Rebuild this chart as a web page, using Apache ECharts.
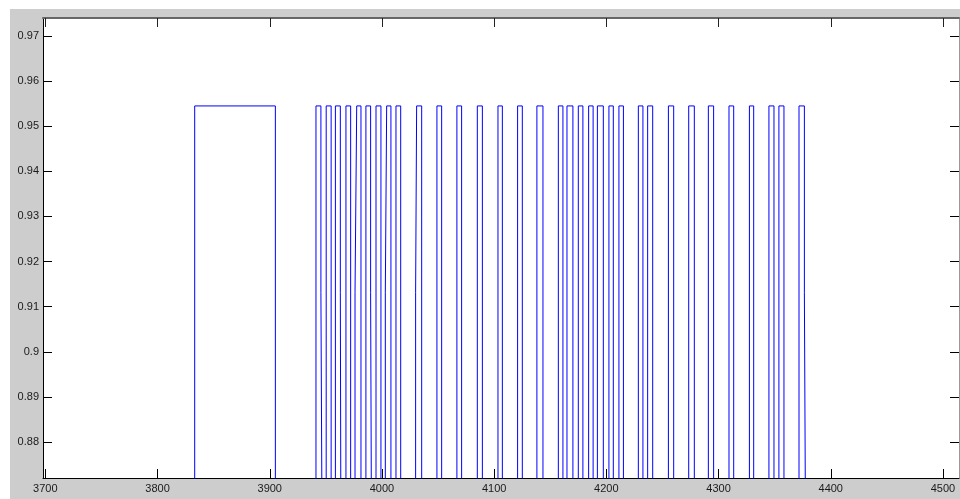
<!DOCTYPE html>
<html>
<head>
<meta charset="utf-8">
<script src="https://cdn.jsdelivr.net/npm/echarts@6/dist/echarts.min.js"></script>
<style>
html,body{margin:0;padding:0;background:#fff;}
#chart{width:960px;height:499px;}
</style>
</head>
<body>
<div id="chart"></div>
<script>
// Pulse rising / falling edges (x values)
const pulseStart = [3833.1, 3941.2, 3950.3, 3958.5, 3967.9, 3977.5, 3985.7, 3994.7, 4004.2, 4012.5,
  4030.9, 4049.0, 4066.8, 4085.0, 4103.4, 4120.9, 4138.1, 4157.2, 4164.9, 4175.0,
  4184.2, 4192.0, 4202.3, 4211.2, 4228.5, 4236.8, 4255.3, 4273.4, 4290.9, 4309.3,
  4327.5, 4344.9, 4353.8, 4371.7];
const pulseEnd = [3905.0, 3945.6, 3954.7, 3962.9, 3972.1, 3981.3, 3989.9, 3999.1, 4008.0, 4016.7,
  4035.4, 4053.2, 4071.0, 4089.5, 4107.3, 4125.1, 4143.5, 4161.3, 4170.2, 4179.1,
  4188.2, 4197.3, 4206.2, 4215.2, 4232.6, 4241.3, 4260.0, 4278.4, 4295.6, 4313.5,
  4331.3, 4349.4, 4358.3, 4376.5];
const highLevel = 0.9545;
const midLevel = 0.9132;
const lowLevel = 0.85;
// small jogs on some edges at the mid level
const riseKinkPulse = [5, 8, 10];
const riseKinkShift = [-1.5, -1.2, -0.9];
const fallKinkPulse = [1, 3, 6, 33];
const fallKinkShift = [1.2, 0.6, 0.9, 1.2];
const xStart = 3697.9, xEnd = 4514.3;
const yMin = 0.87202, yMax = 0.97399;
const xTicks = [3700, 3800, 3900, 4000, 4100, 4200, 4300, 4400, 4500];
const yTicks = [0.88, 0.89, 0.9, 0.91, 0.92, 0.93, 0.94, 0.95, 0.96, 0.97];

const data = [[xStart - 5, lowLevel]];
pulseStart.forEach((a, i) => {
  const b = pulseEnd[i];
  const ri = riseKinkPulse.indexOf(i);
  if (ri >= 0) {
    const s = riseKinkShift[ri];
    data.push([a + s, lowLevel], [a + s, midLevel], [a, midLevel], [a, highLevel]);
  } else {
    data.push([a, lowLevel], [a, highLevel]);
  }
  const fi = fallKinkPulse.indexOf(i);
  if (fi >= 0) {
    const s = fallKinkShift[fi];
    data.push([b, highLevel], [b, midLevel], [b + s, midLevel], [b + s, lowLevel]);
  } else {
    data.push([b, highLevel], [b, lowLevel]);
  }
});
data.push([xEnd + 5, lowLevel]);

const labelStyle = {fontFamily: 'Liberation Sans, Arial, sans-serif', fontSize: 11, color: '#1a1a1a'};

const chart = echarts.init(document.getElementById('chart'), null, {renderer: 'canvas'});
chart.setOption({
  animation: false,
  backgroundColor: '#fff',
  graphic: [{
    type: 'rect', z: -10, silent: true,
    shape: {x: 10, y: 9, width: 950, height: 490},
    style: {fill: '#cdcdcd'}
  }],
  grid: {left: 43, top: 18, right: 1, bottom: 21, show: true, backgroundColor: '#fff', borderWidth: 0},
  xAxis: [{
    type: 'value', position: 'bottom', min: xStart, max: xEnd,
    splitLine: {show: false},
    axisLine: {show: true, lineStyle: {color: '#000', width: 1}},
    axisTick: {show: true, inside: true, length: 9, lineStyle: {color: '#000'}, customValues: xTicks},
    axisLabel: Object.assign({margin: 5, customValues: xTicks, formatter: v => String(v)}, labelStyle)
  }, {
    type: 'value', position: 'top', min: xStart, max: xEnd,
    splitLine: {show: false},
    axisLine: {show: true, lineStyle: {color: '#666', width: 2}},
    axisTick: {show: true, inside: true, length: 9, lineStyle: {color: '#222'}, customValues: xTicks},
    axisLabel: {show: false}
  }],
  yAxis: [{
    type: 'value', position: 'left', min: yMin, max: yMax,
    splitLine: {show: false},
    axisLine: {show: true, lineStyle: {color: '#000', width: 1}},
    axisTick: {show: true, inside: true, length: 9, lineStyle: {color: '#000'}, customValues: yTicks},
    axisLabel: Object.assign({margin: 4, customValues: yTicks, formatter: v => String(v)}, labelStyle)
  }, {
    type: 'value', position: 'right', min: yMin, max: yMax,
    splitLine: {show: false},
    axisLine: {show: true, lineStyle: {color: '#999', width: 1}},
    axisTick: {show: true, inside: true, length: 9, lineStyle: {color: '#000'}, customValues: yTicks},
    axisLabel: {show: false}
  }],
  series: [{
    type: 'line',
    xAxisIndex: 0, yAxisIndex: 0,
    data: data,
    showSymbol: false,
    symbol: 'none',
    clip: true,
    lineStyle: {color: '#0000ff', width: 1},
    silent: true
  }]
});
</script>
</body>
</html>
